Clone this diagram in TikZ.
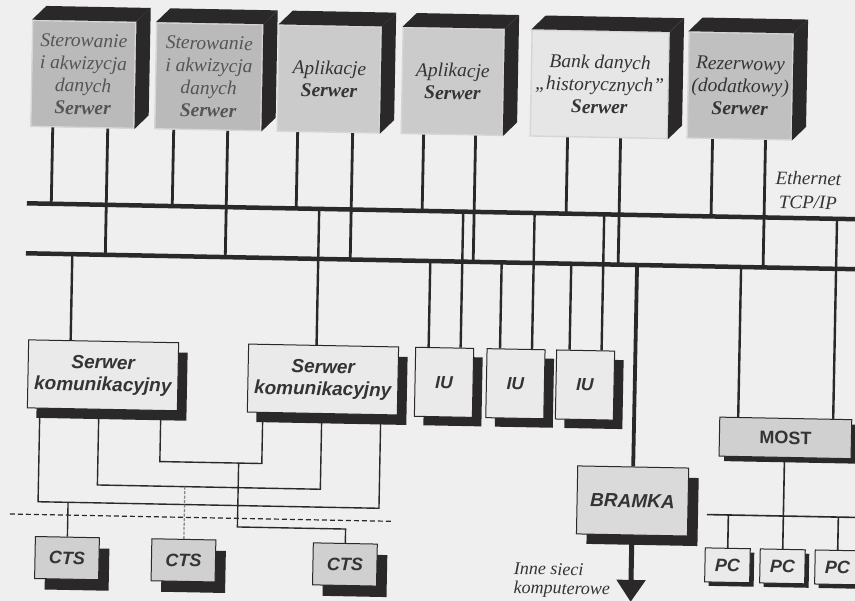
\documentclass[tikz,border=0pt]{standalone}
\usepackage{fontspec}
\setmainfont{Liberation Serif}
\setsansfont{Liberation Sans}
\usetikzlibrary{calc,arrows.meta,shadows}

\definecolor{paper}{RGB}{239,239,239}
\definecolor{ink}{RGB}{42,40,40}
\definecolor{txt}{RGB}{52,52,52}
\definecolor{txtsoft}{RGB}{85,85,85}
\definecolor{srvA}{RGB}{186,186,186}
\definecolor{srvB}{RGB}{203,203,203}
\definecolor{srvC}{RGB}{230,230,230}
\definecolor{srvD}{RGB}{192,192,192}
\definecolor{rim}{RGB}{214,214,214}
\definecolor{boxlight}{RGB}{234,234,234}
\definecolor{boxmid}{RGB}{208,208,208}
\definecolor{boxgate}{RGB}{218,218,218}
\definecolor{wiregray}{RGB}{135,135,135}

\tikzset{
  srvface/.style={draw=rim, line width=1.4pt, minimum height=106pt, inner sep=1pt,
    align=center, text=txt, font=\fontsize{19.5}{22.5}\selectfont\itshape},
  busline/.style={draw=ink, line width=4.5pt},
  legline/.style={draw=ink, line width=2.8pt},
  tapline/.style={draw=ink, line width=2.4pt},
  wireline/.style={draw=ink, line width=1.4pt},
  softwire/.style={draw=wiregray, line width=1.3pt, dash pattern=on 3pt off 1.5pt},
  cutline/.style={draw=ink, line width=1.2pt, dash pattern=on 5pt off 3pt},
  hwbox/.style={draw=ink, line width=1pt, text=txt, align=center, inner sep=1pt,
    font=\sffamily\bfseries\itshape\fontsize{19}{22}\selectfont},
  castshadow/.style 2 args={drop shadow={shadow xshift=#1pt, shadow yshift=-#2pt,
    fill=ink, opacity=1}},
  note/.style={text=txt, inner sep=0pt, font=\itshape},
}

% 3-D server cabinet: front face node plus dark top and side
\newcommand\srvbox[5]{%
  \node[srvface, minimum width=#3, #4] (#1) at (#2) {#5};
  \fill[ink] (#1.north west) -- ++(14,-14) -- ([shift={(14,-14)}]#1.north east)
    -- (#1.north east) -- cycle;
  \fill[ink] (#1.north east) -- ++(14,-14) -- ([shift={(14,-14)}]#1.south east)
    -- (#1.south east) -- cycle;
}

\begin{document}
\begin{tikzpicture}[x=1pt,y=-1pt]
\useasboundingbox (0,0) rectangle (855,601);
\fill[paper] (0,0) rectangle (855,601);
\clip (0,0) rectangle (855,601);
\begin{scope}[rotate around={-1.1:(427,300)}, transform shape]

% ---- servers ----
\srvbox{s1}{79,81}{103pt}{fill=srvA,text=txtsoft}{Sterowanie\\i akwizycja\\danych\\\textbf{Serwer}}
\srvbox{s2}{204.5,81}{106pt}{fill=srvA,text=txtsoft}{Sterowanie\\i akwizycja\\danych\\\textbf{Serwer}}
\srvbox{s3}{325,81}{102pt}{fill=srvB}{Aplikacje\\\textbf{Serwer}}
\srvbox{s4}{448.5,81}{101pt}{fill=srvB}{Aplikacje\\\textbf{Serwer}}
\srvbox{s5}{595.5,81}{137pt}{fill=srvC}{Bank danych\\„historycznych”\\\textbf{Serwer}}
\srvbox{s6}{736,80}{104pt}{fill=srvD}{Rezerwowy\\(dodatkowy)\\\textbf{Serwer}}

% ---- the two Ethernet buses ----
\coordinate (b1w) at (25,211);  \coordinate (b1e) at (880,211);
\coordinate (b2w) at (25,261);  \coordinate (b2e) at (880,261);

% server legs: first to bus 1, second to bus 2
\foreach \s/\p/\q in {s1/-29.5/25.5, s2/-34/20, s3/-30.5/24.5,
                      s4/-28/24, s5/-31/22, s6/-26.5/26.5} {
  \coordinate (\s-l) at ([xshift=\p]\s.south);
  \coordinate (\s-r) at ([xshift=\q]\s.south);
  \draw[legline] (\s-l) -- (\s-l |- b1w);
  \draw[legline] (\s-r) -- (\s-r |- b2w);
}

\draw[busline] (b1w) -- (b1e);
\draw[busline] (b2w) -- (b2e);

\node[note, font=\itshape\fontsize{19}{24}\selectfont, align=center] (eth) at (806,183) {Ethernet\\TCP/IP};

% ---- communication servers, IU units, gateway, bridge ----
\node[hwbox, fill=boxlight, minimum width=150pt, minimum height=68pt, castshadow={9}{10}]
  (k1) at (104.5,381.5) {Serwer\\komunikacyjny};
\node[hwbox, fill=boxlight, minimum width=150pt, minimum height=68pt, castshadow={9}{10}]
  (k2) at (324.5,381.5) {Serwer\\komunikacyjny};

\foreach \n/\x in {iu1/445.6, iu2/517, iu3/586.6} {
  \node[hwbox, fill=boxlight, minimum width=58pt, minimum height=69pt, castshadow={9}{9},
    font=\sffamily\bfseries\itshape\fontsize{17.5}{20}\selectfont] (\n) at (\x,382) {IU};
  \coordinate (\n-l) at ([xshift=-16]\n.north);
  \coordinate (\n-r) at ([xshift=16]\n.north);
  \draw[tapline] (\n-l) -- (\n-l |- b2w);
  \draw[tapline] (\n-r) -- (\n-r |- b1w);
}

\coordinate (k1-t) at ([xshift=-33]k1.north);
\coordinate (k2-t) at ([xshift=-7]k2.north);
\draw[tapline] (k1-t) -- (k1-t |- b2w);
\draw[tapline] (k2-t) -- (k2-t |- b1w);

\node[hwbox, fill=boxgate, minimum width=111pt, minimum height=68pt, castshadow={10}{10}]
  (br) at (636.4,497) {BRAMKA};
\draw[ink, line width=3.8pt] (br.north) -- (br.north |- b2w);
\coordinate (net) at (636.4,598);
\draw[ink, line width=5pt, -{Triangle[width=28pt,length=22pt]}] (br.south) -- (net);
\node[note, anchor=west, align=left, font=\itshape\fontsize{18}{19}\selectfont]
  (netlbl) at (519,578) {Inne sieci\\komputerowe};

\node[hwbox, fill=boxmid, minimum width=132pt, minimum height=39pt, castshadow={5}{5},
  font=\sffamily\bfseries\fontsize{18}{20}\selectfont] (mo) at (788,431) {MOST};
\coordinate (mo-l) at ([xshift=-47.5]mo.north);
\coordinate (mo-r) at ([xshift=47.5]mo.north);
\draw[tapline] (mo-l) -- (mo-l |- b2w);
\draw[tapline] (mo-r) -- (mo-r |- b1w);

% ---- PC segment behind the bridge ----
\foreach \n/\x in {pc1/732.5, pc2/787.5, pc3/842.5}
  \node[hwbox, fill=boxlight, minimum width=45pt, minimum height=34pt, castshadow={4}{4},
    font=\sffamily\bfseries\itshape\fontsize{18}{20}\selectfont] (\n) at (\x,559.5) {PC};
\coordinate (pcw) at (711,509.2);
\coordinate (pce) at (880,509.2);
\draw[wireline, line width=1.6pt] (pcw) -- (pce);
\draw[wireline, line width=1.6pt] (pc2.north |- mo.south) -- (pc2.north);
\draw[wireline, line width=1.6pt] (pc1.north |- pcw) -- (pc1.north);
\draw[wireline, line width=1.6pt] (pc3.north |- pcw) -- (pc3.north);

% ---- CTS stations and their cross-connections ----
\node[hwbox, fill=boxmid, minimum width=64pt, minimum height=42pt, castshadow={10}{11},
  font=\sffamily\bfseries\itshape\fontsize{18}{20}\selectfont] (c1) at (72,565) {CTS};
\node[hwbox, fill=boxmid, minimum width=64pt, minimum height=42pt, castshadow={10}{11},
  font=\sffamily\bfseries\itshape\fontsize{18}{20}\selectfont] (c2) at (188.5,565) {CTS};
\node[hwbox, fill=boxmid, minimum width=64pt, minimum height=42pt, castshadow={10}{11},
  font=\sffamily\bfseries\itshape\fontsize{18}{20}\selectfont] (c3) at (350,566) {CTS};

\coordinate (k1a) at ([xshift=-62.5]k1.south);
\coordinate (k1b) at ([xshift=-3.5]k1.south);
\coordinate (k1c) at ([xshift=58.5]k1.south);
\coordinate (k2a) at ([xshift=-59.5]k2.south);
\coordinate (k2b) at ([xshift=-0.5]k2.south);
\coordinate (k2c) at ([xshift=58.5]k2.south);
\coordinate (lv1) at (0,466.7);
\coordinate (lv2) at (0,491.3);
\coordinate (lv3) at (0,509.2);

\draw[wireline] (k1c) -- (k1c |- lv1) -- (k2a |- lv1) -- (k2a);
\draw[wireline] (k1b) -- (k1b |- lv2) -- (k2b |- lv2) -- (k2b);
\draw[wireline] (k1a) -- (k1a |- lv3) -- (k2c |- lv3) -- (k2c);

\coordinate (j3) at (241.8,466.7);
\coordinate (bend) at (241.8,530.6);
\draw[wireline] (j3) -- (bend) -- (bend -| c3.north) -- (c3.north);
\draw[softwire] (c2.north |- lv2) -- (c2.north);
\draw[wireline] (c1.north |- lv3) -- (c1.north);

\coordinate (cutw) at (14,522);
\coordinate (cute) at (397,522);
\draw[cutline] (cutw) -- (cute);

\end{scope}
\end{tikzpicture}
\end{document}
